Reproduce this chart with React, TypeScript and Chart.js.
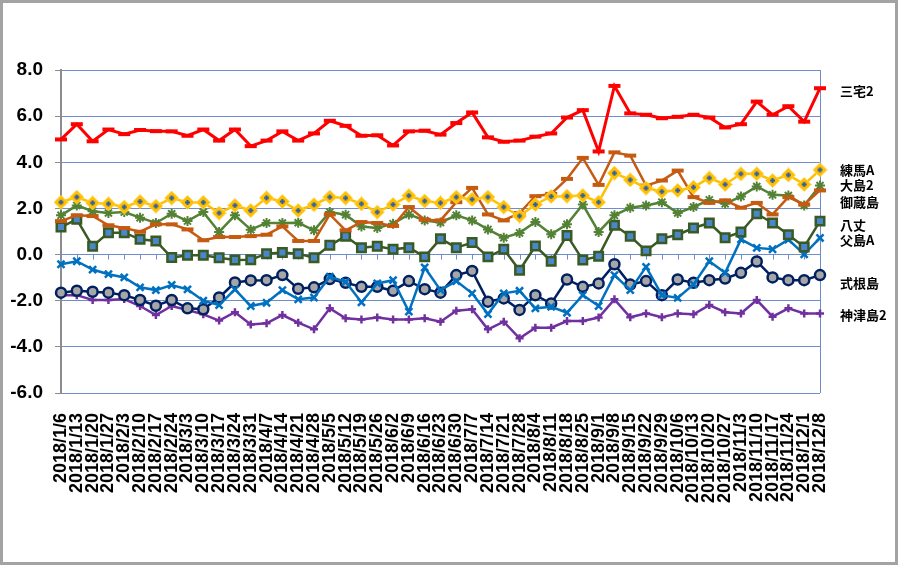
import React, { useEffect, useRef } from "react";
import { Chart, registerables } from "chart.js";

Chart.register(...registerables);

const dates = [
  "2018/1/6", "2018/1/13", "2018/1/20", "2018/1/27", "2018/2/3", "2018/2/10", "2018/2/17", "2018/2/24",
  "2018/3/3", "2018/3/10", "2018/3/17", "2018/3/24", "2018/3/31", "2018/4/7", "2018/4/14", "2018/4/21",
  "2018/4/28", "2018/5/5", "2018/5/12", "2018/5/19", "2018/5/26", "2018/6/2", "2018/6/9", "2018/6/16",
  "2018/6/23", "2018/6/30", "2018/7/7", "2018/7/14", "2018/7/21", "2018/7/28", "2018/8/4", "2018/8/11",
  "2018/8/18", "2018/8/25", "2018/9/1", "2018/9/8", "2018/9/15", "2018/9/22", "2018/9/29", "2018/10/6",
  "2018/10/13", "2018/10/20", "2018/10/27", "2018/11/3", "2018/11/10", "2018/11/17", "2018/11/24", "2018/12/1",
  "2018/12/8",
];

const miyake2 = [
  4.99, 5.65, 4.91, 5.42, 5.22, 5.40, 5.35, 5.34, 5.15, 5.42, 4.94, 5.42, 4.70,
  4.94, 5.34, 4.94, 5.25, 5.80, 5.58, 5.15, 5.17, 4.73, 5.34, 5.37, 5.20,
  5.70, 6.16, 5.08, 4.89, 4.94, 5.11, 5.25, 5.94, 6.26, 4.47, 7.31, 6.12,
  6.06, 5.91, 5.97, 6.06, 5.94, 5.51, 5.65, 6.63, 6.06, 6.43, 5.76, 7.21,
];
const nerimaA = [
  2.27, 2.49, 2.24, 2.20, 2.06, 2.30, 2.10, 2.45, 2.26, 2.26, 1.80, 2.13, 1.91,
  2.46, 2.30, 1.91, 2.16, 2.49, 2.45, 2.20, 1.84, 2.17, 2.55, 2.32, 2.24,
  2.49, 2.39, 2.49, 2.06, 1.67, 2.17, 2.52, 2.53, 2.56, 2.27, 3.53, 3.24,
  2.88, 2.73, 2.78, 2.92, 3.32, 3.04, 3.50, 3.50, 3.21, 3.45, 3.04, 3.67,
];
const oshima2 = [
  1.45, 1.70, 1.67, 1.27, 1.15, 0.99, 1.31, 1.31, 1.09, 0.62, 0.76, 0.76, 0.80,
  0.86, 1.22, 0.59, 0.59, 1.74, 1.05, 1.41, 1.37, 1.24, 2.06, 1.51, 1.48,
  2.27, 2.89, 1.74, 1.48, 1.80, 2.53, 2.63, 3.28, 4.19, 3.02, 4.43, 4.29,
  2.99, 3.21, 3.64, 2.49, 2.24, 2.35, 2.03, 2.24, 1.74, 2.49, 2.17, 2.78,
];
const mikurajima = [
  1.70, 2.13, 1.88, 1.80, 1.84, 1.60, 1.37, 1.77, 1.45, 1.84, 0.98, 1.70, 1.08,
  1.37, 1.37, 1.38, 1.05, 1.84, 1.73, 1.22, 1.15, 1.34, 1.74, 1.48, 1.39,
  1.70, 1.48, 1.09, 0.73, 0.94, 1.41, 0.88, 1.31, 2.17, 0.98, 1.70, 2.03,
  2.13, 2.27, 1.80, 2.06, 2.37, 2.20, 2.52, 2.95, 2.59, 2.56, 2.13, 2.99,
];
const hachijo = [
  1.19, 1.53, 0.36, 0.95, 0.95, 0.66, 0.59, -0.13, -0.03, -0.03, -0.14, -0.24, -0.22,
  0.04, 0.09, 0.04, -0.14, 0.40, 0.79, 0.30, 0.36, 0.23, 0.30, -0.10, 0.69,
  0.30, 0.52, -0.10, 0.23, -0.68, 0.37, -0.29, 0.83, -0.24, -0.07, 1.27, 0.79,
  0.16, 0.69, 0.86, 1.15, 1.37, 0.73, 0.98, 1.77, 1.37, 0.86, 0.33, 1.45,
];
const chichijimaA = [
  -0.42, -0.29, -0.65, -0.85, -0.99, -1.42, -1.54, -1.32, -1.51, -2.00, -2.19, -1.51, -2.23,
  -2.09, -1.54, -1.94, -1.86, -0.96, -1.18, -2.07, -1.25, -1.11, -2.47, -0.56, -1.54,
  -1.15, -1.68, -2.58, -1.68, -1.57, -2.33, -2.26, -2.52, -1.76, -2.23, -0.89, -1.54,
  -0.53, -1.76, -1.88, -1.29, -0.29, -0.79, 0.66, 0.29, 0.23, 0.65, 0.01, 0.72,
];
const shikinejima = [
  -1.65, -1.57, -1.61, -1.65, -1.76, -1.97, -2.22, -1.97, -2.33, -2.37, -1.86, -1.21, -1.12,
  -1.11, -0.89, -1.48, -1.42, -1.06, -1.22, -1.40, -1.40, -1.57, -1.15, -1.50, -1.65,
  -0.89, -0.71, -2.04, -1.90, -2.40, -1.76, -2.12, -1.08, -1.40, -1.25, -0.42, -1.30,
  -1.15, -1.76, -1.08, -1.22, -1.11, -1.04, -0.79, -0.30, -0.99, -1.11, -1.11, -0.89,
];
const kozushima2 = [
  -1.76, -1.76, -1.97, -1.97, -1.93, -2.23, -2.62, -2.23, -2.40, -2.59, -2.86, -2.50, -3.03,
  -2.98, -2.62, -2.95, -3.24, -2.33, -2.76, -2.81, -2.73, -2.81, -2.81, -2.76, -2.91,
  -2.43, -2.37, -3.24, -2.91, -3.63, -3.17, -3.17, -2.88, -2.88, -2.73, -1.94, -2.72,
  -2.55, -2.72, -2.55, -2.59, -2.19, -2.50, -2.55, -1.97, -2.69, -2.33, -2.55, -2.55,
];

const sideLabels = ["三宅2", "練馬A", "大島2", "御蔵島", "八丈", "父島A", "式根島", "神津島2"];
const sideLabelValues = [7.09, 3.65, 3.0, 2.26, 1.3, 0.61, -1.22, -2.61];

function makeDiamond(): HTMLCanvasElement {
  const c = document.createElement("canvas");
  c.width = 15;
  c.height = 15;
  const g = c.getContext("2d")!;
  g.beginPath();
  g.moveTo(7.5, 0.5);
  g.lineTo(14.5, 7.5);
  g.lineTo(7.5, 14.5);
  g.lineTo(0.5, 7.5);
  g.closePath();
  g.fillStyle = "#FFC000";
  g.fill();
  g.strokeStyle = "#FFD54F";
  g.lineWidth = 1;
  g.stroke();
  g.fillStyle = "#2F5EA8";
  g.fillRect(6.5, 5, 2, 5);
  g.fillRect(5, 6.5, 5, 2);
  return c;
}

export default function App() {
  const ref = useRef<HTMLCanvasElement | null>(null);
  useEffect(() => {
    if (!ref.current) return;
    const diamond = makeDiamond();
    const decor = {
      id: "decor",
      beforeDraw(chart: any) {
        const ctx = chart.ctx;
        ctx.save();
        ctx.fillStyle = "#ffffff";
        ctx.fillRect(0, 0, chart.width, chart.height);
        ctx.strokeStyle = "#a3a3a3";
        ctx.lineWidth = 3;
        ctx.strokeRect(1.5, 1.5, chart.width - 5, chart.height - 4);
        ctx.restore();
      },
      beforeDatasetsDraw(chart: any) {
        const ctx = chart.ctx;
        const xs = chart.scales.x;
        const ys = chart.scales.y;
        const a = chart.chartArea;
        const y0 = ys.getPixelForValue(0);
        ctx.save();
        ctx.strokeStyle = "#6f8ccc";
        ctx.lineWidth = 1;
        ctx.beginPath();
        for (let i = 0; i < dates.length; i++) {
          const x = Math.round(xs.getPixelForValue(i)) + 0.5;
          ctx.moveTo(x, y0);
          ctx.lineTo(x, y0 + 5);
        }
        ctx.moveTo(Math.round(a.right) + 0.5, a.top);
        ctx.lineTo(Math.round(a.right) + 0.5, a.bottom);
        ctx.stroke();
        ctx.restore();
      },
      afterDraw(chart: any) {
        const ctx = chart.ctx;
        const ys = chart.scales.y;
        const a = chart.chartArea;
        ctx.save();
        ctx.fillStyle = "#000000";
        ctx.font = 'bold 13px "Noto Sans CJK JP"';
        ctx.textAlign = "left";
        ctx.textBaseline = "middle";
        sideLabels.forEach((t, i) => {
          ctx.fillText(t, a.right + 20, ys.getPixelForValue(sideLabelValues[i]));
        });
        ctx.restore();
      },
    };

    const chart = new Chart(ref.current, {
      type: "line",
      data: {
        labels: dates,
        datasets: [
          {
            label: "三宅2",
            data: miyake2,
            borderColor: "#FF0000",
            backgroundColor: "#FF0000",
            borderWidth: 3,
            pointStyle: "line",
            pointRadius: 6,
            pointBorderWidth: 4,
            pointBorderColor: "#FF0000",
          },
          {
            label: "練馬A",
            data: nerimaA,
            borderColor: "#FFC000",
            backgroundColor: "#FFC000",
            borderWidth: 2.5,
            pointStyle: diamond,
            pointRadius: 7,
          },
          {
            label: "大島2",
            data: oshima2,
            borderColor: "#C55A11",
            backgroundColor: "#C55A11",
            borderWidth: 2.5,
            pointStyle: "line",
            pointRadius: 6,
            pointBorderWidth: 4,
            pointBorderColor: "#C55A11",
          },
          {
            label: "御蔵島",
            data: mikurajima,
            borderColor: "#548235",
            backgroundColor: "#548235",
            borderWidth: 2.5,
            pointStyle: "star",
            pointRadius: 5,
            pointBorderWidth: 2,
            pointBorderColor: "#548235",
          },
          {
            label: "八丈",
            data: hachijo,
            borderColor: "#3A5A24",
            backgroundColor: "#4A86C8",
            borderWidth: 2.5,
            pointStyle: "rect",
            pointRadius: 6,
            pointBorderWidth: 2.5,
            pointBorderColor: "#3A5A24",
            pointBackgroundColor: "#4A86C8",
          },
          {
            label: "父島A",
            data: chichijimaA,
            borderColor: "#0070C0",
            backgroundColor: "#0070C0",
            borderWidth: 2.5,
            pointStyle: "crossRot",
            pointRadius: 5,
            pointBorderWidth: 2.5,
            pointBorderColor: "#0070C0",
          },
          {
            label: "式根島",
            data: shikinejima,
            borderColor: "#002060",
            backgroundColor: "#A6A6A6",
            borderWidth: 2.5,
            pointStyle: "circle",
            pointRadius: 5,
            pointBorderWidth: 2.5,
            pointBorderColor: "#002060",
            pointBackgroundColor: "#A6A6A6",
          },
          {
            label: "神津島2",
            data: kozushima2,
            borderColor: "#7030A0",
            backgroundColor: "#7030A0",
            borderWidth: 2.5,
            pointStyle: "cross",
            pointRadius: 4,
            pointBorderWidth: 2.5,
            pointBorderColor: "#7030A0",
          },
        ],
      },
      options: {
        animation: false,
        responsive: false,
        devicePixelRatio: 1,
        layout: { padding: { left: 0, top: 70, right: 80, bottom: 0 } },
        plugins: {
          legend: { display: false },
          tooltip: { enabled: false },
        },
        elements: { line: { tension: 0 } },
        scales: {
          x: {
            type: "category",
            offset: false,
            grid: { display: false, drawTicks: false },
            border: { display: false },
            ticks: {
              autoSkip: false,
              maxRotation: 90,
              minRotation: 90,
              padding: 20,
              color: "#000000",
              font: { family: "Liberation Sans, Arial, sans-serif", size: 18, weight: "bold" },
            },
            afterFit(scale: any) {
              scale.height = 173;
            },
          },
          y: {
            min: -6,
            max: 8,
            ticks: {
              stepSize: 2,
              padding: 12,
              color: "#000000",
              font: { family: "Liberation Sans, Arial, sans-serif", size: 19, weight: "bold" },
              callback: (v: any) => Number(v).toFixed(1),
            },
            grid: {
              color: "#6f8ccc",
              lineWidth: 1,
              drawTicks: true,
              tickLength: 6,
              tickColor: "#8c8c8c",
            },
            border: { display: true, color: "#8c8c8c", width: 2 },
            afterFit(scale: any) {
              scale.width = 61;
            },
          },
        },
      },
      plugins: [decor],
    } as any);
    return () => chart.destroy();
  }, []);

  return (
    <div style={{ position: "absolute", left: 0, top: 0, width: 900, height: 566 }}>
      <canvas ref={ref} width={900} height={566} style={{ display: "block", width: 900, height: 566 }} />
    </div>
  );
}
